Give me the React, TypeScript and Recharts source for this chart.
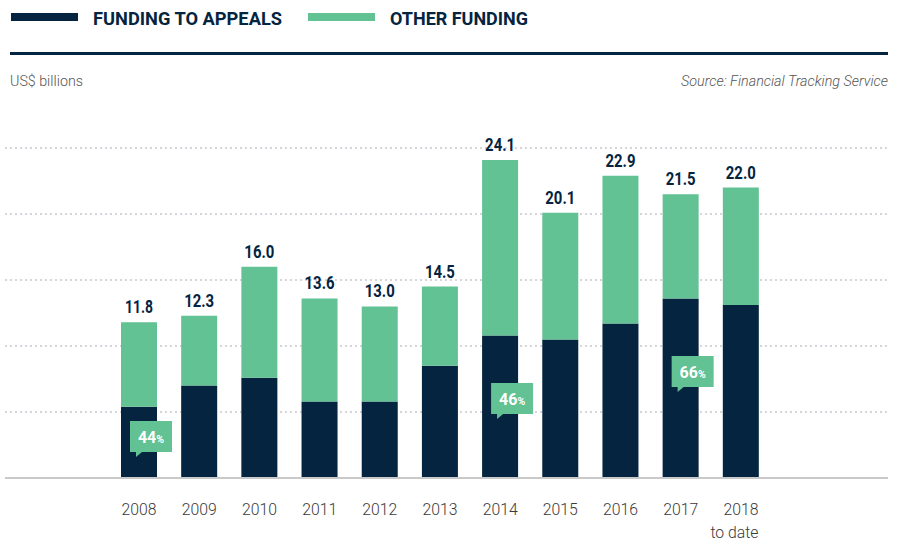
import React from "react";
import { BarChart, Bar, XAxis, YAxis, CartesianGrid, LabelList } from "recharts";

const years = ["2008", "2009", "2010", "2011", "2012", "2013", "2014", "2015", "2016", "2017", "2018"];
const appeals = [5.4, 7.0, 7.6, 5.8, 5.8, 8.5, 10.8, 10.5, 11.7, 13.6, 13.1];
const other = [6.4, 5.3, 8.4, 7.8, 7.2, 6.0, 13.3, 9.6, 11.2, 7.9, 8.9];
const totals = ["11.8", "12.3", "16.0", "13.6", "13.0", "14.5", "24.1", "20.1", "22.9", "21.5", "22.0"];
const shareYears = ["2008", "2014", "2017"];
const shareValues = ["44", "46", "66"];
const yTicks = [0, 5, 10, 15, 20, 25];

const NAVY = "#04243f";
const GREEN = "#62c293";
const FONT = "Roboto, 'Noto Sans', sans-serif";

// how far above the baseline each callout box sits (px)
const calloutLift: Record<string, number> = { "2008": 26, "2014": 64, "2017": 91 };

const data = years.map((year, i) => ({
  year,
  appeals: appeals[i],
  other: other[i],
  total: totals[i],
}));

function YearTick({ x, y, payload }: any) {
  const last = payload.value === "2018";
  return (
    <g>
      <text
        x={x}
        y={y + 29}
        textAnchor="middle"
        fill="#3a3a3a"
        fontSize={17}
        fontWeight={300}
        fontFamily={FONT}
        textLength={35}
        lengthAdjust="spacingAndGlyphs"
      >
        {payload.value}
      </text>
      {last && (
        <text
          x={x + 17.5}
          y={y + 52}
          textAnchor="end"
          fill="#3a3a3a"
          fontSize={17}
          fontWeight={300}
          fontFamily={FONT}
          textLength={48}
          lengthAdjust="spacingAndGlyphs"
        >
          to date
        </text>
      )}
    </g>
  );
}

function TotalLabel({ x, y, width, index }: any) {
  const txt = totals[index];
  return (
    <text
      x={x + width / 2}
      y={y - 9}
      textAnchor="middle"
      fill={NAVY}
      fontSize={17.5}
      fontWeight={700}
      fontFamily={FONT}
      textLength={txt.startsWith("11") ? 28 : 30}
      lengthAdjust="spacingAndGlyphs"
    >
      {txt}
    </text>
  );
}

function ShareCallout({ x, y, height, index }: any) {
  const year = years[index];
  const k = shareYears.indexOf(year);
  if (k < 0) return null;
  const base = y + height;
  const bx = x + 9;
  const bb = base - calloutLift[year];
  const by = bb - 31;
  return (
    <g>
      <rect x={bx} y={by} width={42} height={31} fill={GREEN} />
      <polygon points={`${bx + 6},${bb} ${bx + 12},${bb} ${bx + 6},${bb + 5}`} fill={GREEN} />
      <text x={bx + 21} y={by + 21.5} textAnchor="middle" fill="#fff" fontWeight={700} fontFamily={FONT}>
        <tspan fontSize={16}>{shareValues[k]}</tspan>
        <tspan fontSize={10.5}>%</tspan>
      </text>
    </g>
  );
}

export default function App() {
  return (
    <div style={{ position: "absolute", left: 0, top: 0, width: 903, height: 542, background: "#fff" }}>
      <svg width={903} height={100} style={{ position: "absolute", left: 0, top: 0 }}>
        <rect x={11} y={13} width={67} height={8} fill={NAVY} />
        <text x={93} y={25} fill={NAVY} fontSize={18.5} fontWeight={700} fontFamily={FONT} textLength={189} lengthAdjust="spacingAndGlyphs">
          FUNDING TO APPEALS
        </text>
        <rect x={308} y={13} width={67} height={8} fill={GREEN} />
        <text x={390} y={25} fill={NAVY} fontSize={18.5} fontWeight={700} fontFamily={FONT} textLength={138} lengthAdjust="spacingAndGlyphs">
          OTHER FUNDING
        </text>
        <rect x={10} y={52} width={878} height={3} fill={NAVY} />
        <text x={10} y={86} fill="#555" fontSize={14.5} fontWeight={300} fontFamily={FONT} textLength={73} lengthAdjust="spacingAndGlyphs">
          US$ billions
        </text>
        <text x={888} y={86} textAnchor="end" fill="#555" fontSize={14.5} fontStyle="italic" fontWeight={300} fontFamily={FONT} textLength={207} lengthAdjust="spacingAndGlyphs">
          Source: Financial Tracking Service
        </text>
      </svg>
      <div style={{ position: "absolute", left: 0, top: 0 }}>
        <BarChart width={903} height={542} data={data} margin={{ top: 148, right: 15, left: 5, bottom: 4 }}>
          <CartesianGrid vertical={false} stroke="#a9acb8" strokeDasharray="2 3" />
          <XAxis
            dataKey="year"
            height={60}
            padding={{ left: 104, right: 117 }}
            axisLine={{ stroke: "#c9c9c9", strokeWidth: 2 }}
            tickLine={false}
            tick={<YearTick />}
            interval={0}
          />
          <YAxis hide width={0} domain={[0, 25]} ticks={yTicks} />
          <Bar dataKey="appeals" stackId="a" fill={NAVY} barSize={36} isAnimationActive={false}>
            <LabelList dataKey="appeals" content={<ShareCallout />} />
          </Bar>
          <Bar dataKey="other" stackId="a" fill={GREEN} barSize={36} isAnimationActive={false}>
            <LabelList dataKey="total" content={<TotalLabel />} />
          </Bar>
        </BarChart>
      </div>
    </div>
  );
}
